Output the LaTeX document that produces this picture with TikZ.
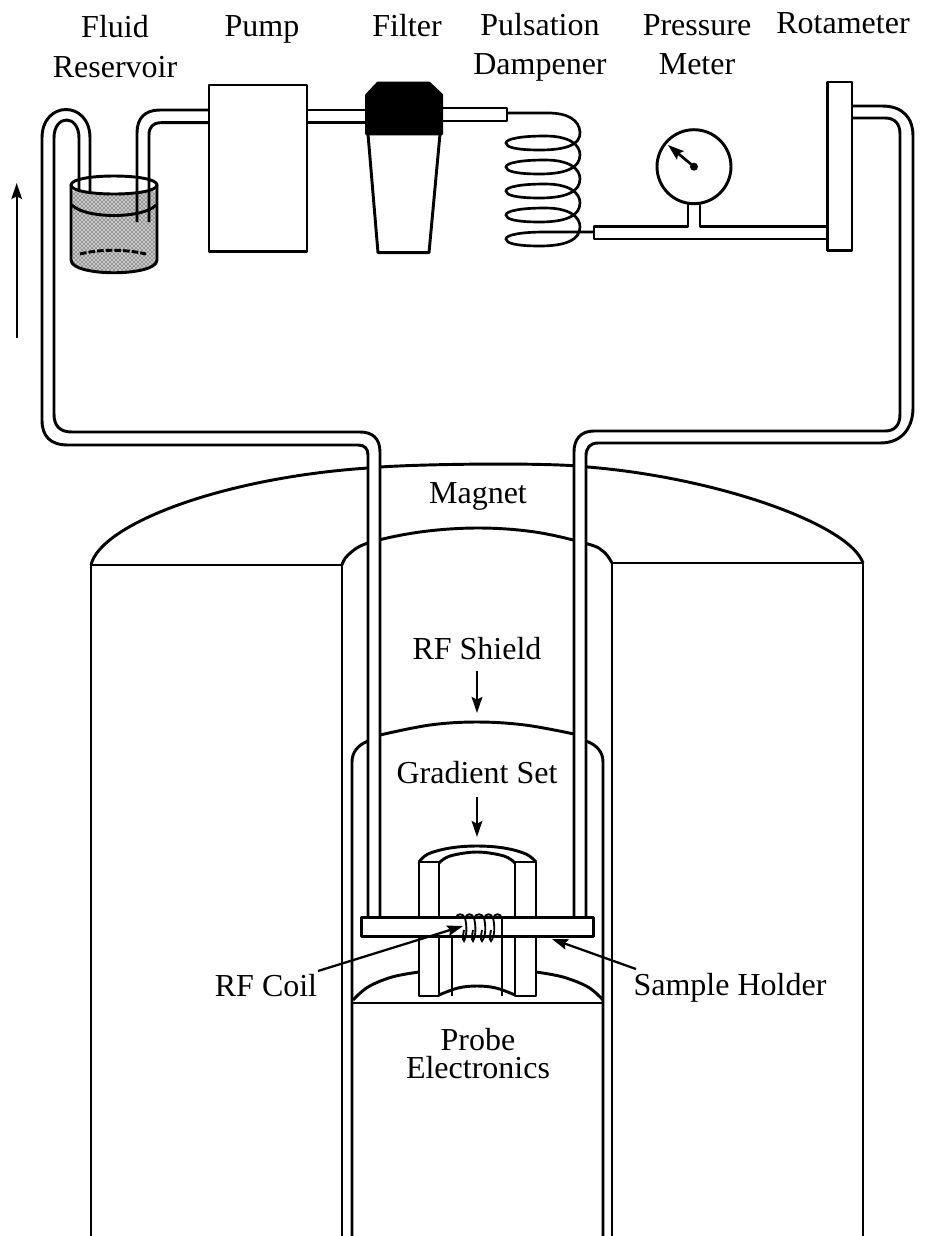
\documentclass[tikz,border=0pt]{standalone}
\usepackage{fontspec}
\setmainfont{Liberation Serif}
\usetikzlibrary{arrows.meta,patterns}
\tikzset{
 ln/.style={line width=2.2pt,black,line join=round},
 thin2/.style={line width=1.1pt,black},
 lbl/.style={inner sep=0pt,anchor=base,font=\fontsize{24}{28}\selectfont,text=black},
 arr/.style={line width=1.7pt,-{Stealth[length=12pt,width=8pt,inset=2pt]}},
 smoothln/.style={ln,smooth,tension=0.6},
 boxn/.style={draw,ln,fill=white,inner sep=0pt,outer sep=0pt,anchor=north west}
}
\begin{document}
\begin{tikzpicture}[x=0.75pt,y=-0.75pt]
\useasboundingbox (0,0) rectangle (930,1236);
\fill[white] (0,0) rectangle (930,1236);
% magnet
\draw[ln] (91,565) .. controls (100,525) and (220,478) .. (368,468) .. controls (405,464) and (550,462) .. (588,467) .. controls (720,478) and (850,525) .. (863,563);
\draw[smoothln] plot coordinates {(342,565) (348,555) (368,543) (420,532) (478,528) (535,532) (588,544) (604,552) (612,563)};
\draw[ln] (91,565) -- (342,565) (612,563) -- (863,563);
\draw[ln] (91,565) -- (91,1236) (342,565) -- (342,1236) (612,563) -- (612,1236) (863,563) -- (863,1236);
% RF shield / gradient cylinder
\draw[ln] (352,1236) -- (352,762) .. controls (352,752) and (358,745) .. (368,741);
\draw[ln] (603,1236) -- (603,762) .. controls (603,752) and (597,745) .. (586,741);
\draw[smoothln] plot coordinates {(380,735) (430,725) (477,722) (525,725) (574,734)};
% probe top
\draw[smoothln] plot coordinates {(353,1000) (368,987) (392,977) (419,972)};
\draw[smoothln] plot coordinates {(536,972) (563,977) (588,987) (603,1000)};
\draw[ln] (352,1003) -- (603,1003);
% gradient set
\draw[smoothln] plot coordinates {(419,862) (428,854) (450,848) (477,846) (504,848) (526,854) (536,862)};
\draw[smoothln] plot coordinates {(439,863) (450,856) (477,852) (504,856) (515,863)};
\draw[ln] (419,862) -- (419,996) -- (439,996) -- (439,862) -- cycle;
\draw[ln] (515,862) -- (515,996) -- (536,996) -- (536,862) -- cycle;
\draw[smoothln] plot coordinates {(439,995) (458,988) (477,986) (496,988) (515,995)};
\draw[thin2] (452,937) -- (452,996) (502,937) -- (502,996);
% tube masks
\fill[white] (368,450) rectangle (380,917);
\fill[white] (574,450) rectangle (586,917);
% left tube (magnet to reservoir)
\draw[ln] (380,917) -- (380,452) .. controls (380,438) and (372,432) .. (360,432) -- (72,432) .. controls (60,432) and (54,426) .. (54,414) -- (54,138) .. controls (54,114) and (79,114) .. (79,138) -- (79,222);
\draw[ln] (368,917) -- (368,455) .. controls (368,449) and (365,445) .. (358,445) -- (68,445) .. controls (50,445) and (42,436) .. (42,420) -- (42,138) .. controls (42,100) and (90,100) .. (90,138) -- (90,222);
% right tube
\draw[ln] (853,106) -- (882,106) .. controls (903,106) and (913,118) .. (913,136) -- (913,408) .. controls (913,424) and (905,443) .. (880,443) -- (598,443) .. controls (590,443) and (586,448) .. (586,456) -- (586,917);
\draw[ln] (853,118) -- (885,118) .. controls (895,118) and (900,124) .. (900,134) -- (900,414) .. controls (900,426) and (894,431) .. (885,431) -- (594,431) .. controls (580,431) and (574,440) .. (574,452) -- (574,917);
% reservoir
\fill[gray!45] (71,190) .. controls (90,197) and (138,197) .. (157,190) -- (157,260) .. controls (157,277) and (71,277) .. (71,260) -- cycle;
\path[pattern=crosshatch dots,pattern color=black] (71,190) .. controls (90,197) and (138,197) .. (157,190) -- (157,260) .. controls (157,277) and (71,277) .. (71,260) -- cycle;
\draw[ln] (71,185) -- (71,260) .. controls (71,277) and (157,277) .. (157,260) -- (157,185);
\draw[ln] (71,185) .. controls (71,173) and (157,173) .. (157,185) .. controls (157,197) and (71,197) .. (71,185) -- cycle;
\draw[ln] (72,205) .. controls (85,219) and (143,219) .. (156,205);
\draw[ln,dash pattern=on 5pt off 1.5pt] (80,254) .. controls (100,249) and (125,249) .. (146,254);
% tube reservoir to pump
\draw[ln] (137,222) -- (137,133) .. controls (137,118) and (145,110) .. (160,110) -- (209,110);
\draw[ln] (149,222) -- (149,135) .. controls (149,127) and (153,122.7) .. (161,122.7) -- (209,122.7);
% pump
\node[boxn,minimum width=73.5pt,minimum height=125pt] (pump) at (209,85) {};
\draw[ln] (pump.east |- 0,110) -- (366,110);
\draw[ln] (pump.east |- 0,122.7) -- (366,122.7);
% filter
\draw[ln] (368,134) -- (378,252.7) -- (429,252.7) -- (440,134);
\draw[ln,fill=black] (366.7,134) -- (366.7,95) -- (378,83) -- (429,83) -- (441.7,95) -- (441.7,134) -- cycle;
\draw[ln] (441,108) -- (507,108) -- (507,121) -- (441,121);
% coil
\draw[line width=2pt] (507,113) -- (548,113) .. controls (568,113) and (579,120) .. (580,132)
 .. controls (581,145) and (565,150) .. (540,150) .. controls (515,150) and (506,147) .. (506,143) .. controls (506,139) and (520,136) .. (545,136)
 .. controls (570,136) and (580,145) .. (580,155) .. controls (580,168) and (565,174) .. (540,174) .. controls (515,174) and (506,171) .. (506,167) .. controls (506,163) and (520,160) .. (545,160)
 .. controls (570,160) and (580,169) .. (580,179) .. controls (580,192) and (565,198) .. (540,198) .. controls (515,198) and (506,195) .. (506,191) .. controls (506,187) and (520,184) .. (545,184)
 .. controls (570,184) and (580,193) .. (580,203) .. controls (580,216) and (565,222) .. (540,222) .. controls (515,222) and (506,219) .. (506,215) .. controls (506,211) and (520,208) .. (545,208)
 .. controls (570,208) and (580,217) .. (580,227) .. controls (580,240) and (565,246) .. (540,246) .. controls (515,246) and (506,243) .. (506,239) .. controls (506,235) and (520,232) .. (545,232) -- (594,232);
% pipe from coil to rotameter
\draw[ln] (827,226.7) -- (700,226.7) -- (700,203) (688,203) -- (688,226.7) -- (594,226.7) -- (594,239) -- (827,239);
% gauge
\node[draw,ln,circle,minimum size=55.5pt,inner sep=0pt,outer sep=0pt] (gauge) at (694,166.7) {};
\coordinate (needletip) at (668,145);
\fill (gauge.center) circle (4);
\draw[line width=2pt,-{Stealth[length=12pt,width=8pt,inset=2pt]}] (gauge.center) -- (needletip);
% rotameter
\node[boxn,minimum width=18.2pt,minimum height=126.5pt] (rota) at (827.7,82) {};
% flow arrow
\coordinate (flowS) at (16.7,338);
\coordinate (flowE) at (16.7,183);
\draw[arr] (flowS) -- (flowE);
% sample holder
\node[boxn,minimum width=173.7pt,minimum height=14.2pt] (holder) at (361.7,917.7) {};
% RF coil
\draw[line width=1.4pt]
 (456,918) .. controls (457,913) and (463,913) .. (465,918) .. controls (467,926) and (467,936) .. (464,941) .. controls (462,939) and (463,936) .. (464,930)
 (465,918) .. controls (467,913) and (472,913) .. (474,918) .. controls (476,926) and (476,936) .. (473,941) .. controls (471,939) and (472,936) .. (473,930)
 (474,918) .. controls (476,913) and (482,913) .. (484,918) .. controls (486,926) and (486,936) .. (482,941) .. controls (480,939) and (481,936) .. (482,930)
 (484,918) .. controls (486,913) and (491,913) .. (493,918) .. controls (495,926) and (495,936) .. (491,941) .. controls (489,939) and (490,936) .. (491,930)
 (493,918) .. controls (495,913) and (500,913) .. (502,918) -- (502,937);
% labels
\node[lbl] (fluid) at (115,37) {Fluid};
\node[lbl] (reservoir) at (115,77) {Reservoir};
\node[lbl] (pumpL) at (262,36) {Pump};
\node[lbl] (filterL) at (407,36) {Filter};
\node[lbl] (puls) at (540,35) {Pulsation};
\node[lbl] (damp) at (540,74) {Dampener};
\node[lbl] (press) at (697,35) {Pressure};
\node[lbl] (meter) at (697,74) {Meter};
\node[lbl] (rotaL) at (843,33) {Rotameter};
\node[lbl] (magnet) at (478,503) {Magnet};
\node[lbl] (shield) at (477,659) {RF Shield};
\node[lbl] (gradient) at (477,783) {Gradient Set};
\node[lbl] (rfcoil) at (266,996) {RF Coil};
\node[lbl] (sample) at (730,995) {Sample Holder};
\node[lbl] (probe) at (478,1050) {Probe};
\node[lbl] (elec) at (478,1078) {Electronics};
% leader arrows
\coordinate (shieldTail) at (477,671);
\coordinate (shieldTip) at (477,713);
\coordinate (gradTail) at (477,797);
\coordinate (gradTip) at (477,837);
\coordinate (coilTip) at (463,926);
\coordinate (coilTail) at (318,971);
\coordinate (holderTip) at (552,939);
\coordinate (holderTail) at (636,969);
\draw[arr] (shieldTail) -- (shieldTip);
\draw[arr] (gradTail) -- (gradTip);
\draw[arr] (coilTail) -- (coilTip);
\draw[arr] (holderTail) -- (holderTip);
\end{tikzpicture}
\end{document}
